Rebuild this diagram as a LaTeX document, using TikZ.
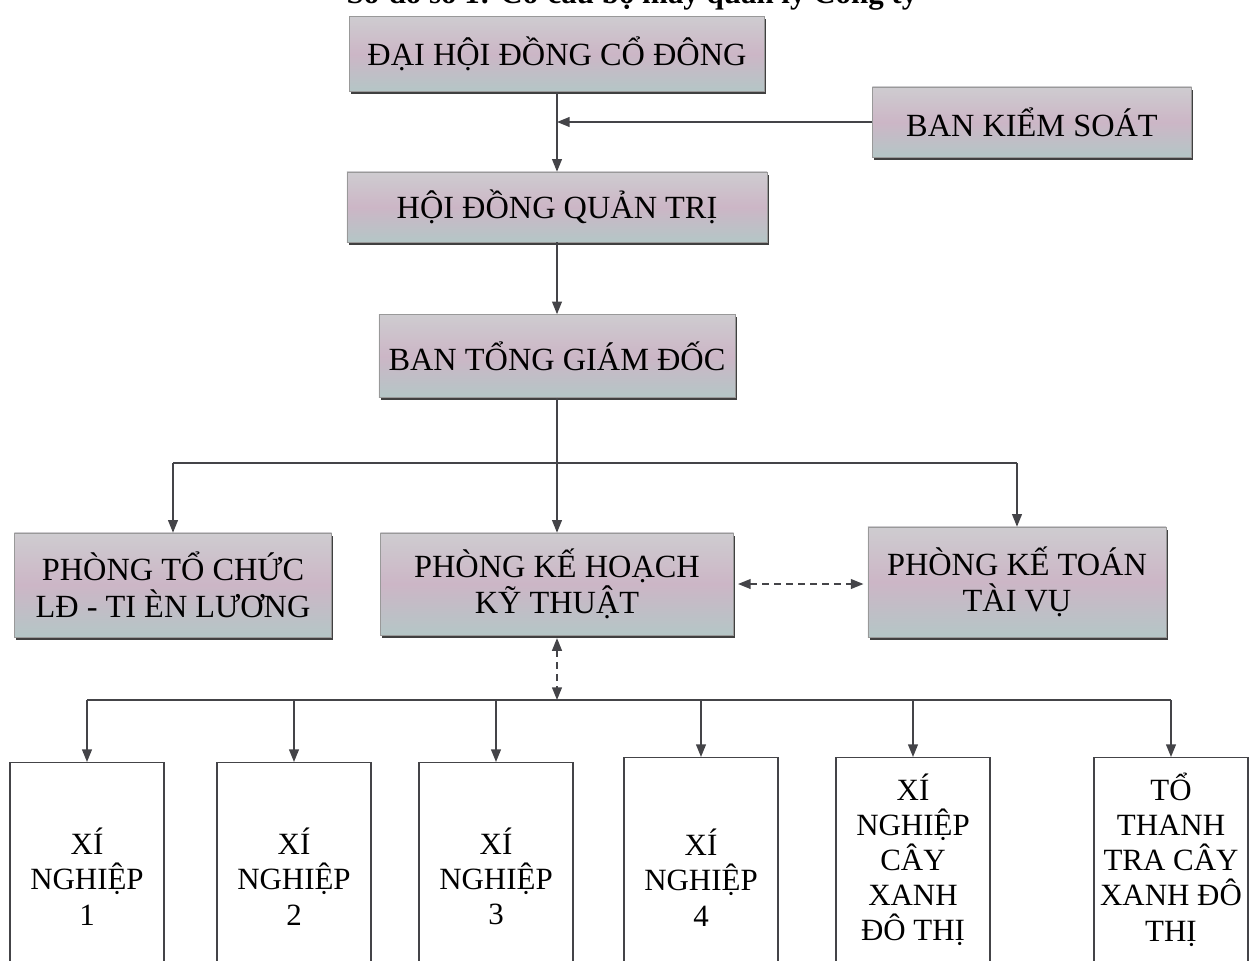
\documentclass[tikz,border=0pt]{standalone}
\usepackage{fontspec}
\setmainfont{Liberation Serif}
\usetikzlibrary{arrows.meta,shadows}
\definecolor{metaltop}{RGB}{206,204,208}
\definecolor{metalmid}{RGB}{204,182,198}
\definecolor{metalbot}{RGB}{180,198,198}
\definecolor{linegray}{RGB}{68,68,72}
\begin{document}
\begin{tikzpicture}[x=0.025cm,y=-0.025cm,
		>={Triangle[length=9pt,width=7pt]},
		line/.style={draw=linegray,line width=1.1pt},
		topbox/.style={draw=gray!80,thin,top color=metaltop,bottom color=metalbot,middle color=metalmid,
			drop shadow={shadow xshift=1.2pt,shadow yshift=-2pt,fill=black!75,opacity=1},
			font=\fontsize{23}{26}\selectfont,align=center,inner sep=2pt},
		unitbox/.style={draw=linegray,fill=white,line width=0.8pt,minimum width=3.85cm,
			font=\fontsize{22}{25}\selectfont,align=center,anchor=north}]
		\useasboundingbox (0,0) rectangle (1251,961);
		\clip (0,0) rectangle (1251,961);
		\node[font=\bfseries\fontsize{22}{26}\selectfont,anchor=base] (title) at (632,3) {Sơ đồ số 1: Cơ cấu bộ máy quản lý Công ty};
		\node[topbox,minimum width=10.375cm,minimum height=1.875cm] (dhcd) at (557,54) {ĐẠI HỘI ĐỒNG CỔ ĐÔNG};
		\node[topbox,minimum width=7.975cm,minimum height=1.75cm] (bks) at (1032,122) {BAN KIỂM SOÁT};
		\node[topbox,minimum width=10.5cm,minimum height=1.75cm] (hdqt) at (557,207) {HỘI ĐỒNG QUẢN TRỊ};
		\node[topbox,minimum width=8.9cm,minimum height=2.075cm] (btgd) at (557,356) {BAN TỔNG GIÁM ĐỐC};
		\node[topbox,minimum width=7.925cm,minimum height=2.6cm] (tc) at (173,585) {PHÒNG TỔ CHỨC\\LĐ - TI ÈN LƯƠNG};
		\node[topbox,minimum width=8.825cm,minimum height=2.55cm] (kh) at (557,584) {PHÒNG KẾ HOẠCH\\KỸ THUẬT};
		\node[topbox,minimum width=7.45cm,minimum height=2.75cm] (kt) at (1017,582) {PHÒNG KẾ TOÁN\\TÀI VỤ};
		\node[unitbox,minimum height=5.7cm] (xn1) at (87,762) {XÍ\\NGHIỆP\\1};
		\node[unitbox,minimum height=5.7cm] (xn2) at (294,762) {XÍ\\NGHIỆP\\2};
		\node[unitbox,minimum height=5.7cm] (xn3) at (496,762) {XÍ\\NGHIỆP\\3};
		\node[unitbox,minimum height=6cm] (xn4) at (701,757) {XÍ\\NGHIỆP\\4};
		\node[unitbox,minimum height=5.1cm] (xncx) at (913,757) {XÍ\\NGHIỆP\\CÂY\\XANH\\ĐÔ THỊ};
		\node[unitbox,minimum height=5.1cm] (tt) at (1171,757) {TỔ\\THANH\\TRA CÂY\\XANH ĐÔ\\THỊ};
		% upper levels
		\draw[line,->] (dhcd) -- (hdqt);
		\draw[line,->] (bks) -- (bks -| dhcd);
		\draw[line,->] (hdqt) -- (btgd);
		\coordinate (busA) at (557,463);
		\draw[line] (btgd) -- (busA);
		\draw[line] (busA -| tc) -- (busA -| kt);
		\foreach \n in {tc,kh,kt} \draw[line,->] (busA -| \n) -- (\n);
		\draw[line,dashed,dash pattern=on 5pt off 3.5pt,<->,shorten <=3pt,shorten >=3pt] (kh.east) -- (kh.east -| kt.west);
		% units
		\coordinate (busB) at (557,700);
		\draw[line,dashed,dash pattern=on 5pt off 3.5pt,<->,shorten <=2pt] (kh) -- (busB);
		\draw[line] (busB -| xn1) -- (busB -| tt);
		\foreach \n in {xn1,xn2,xn3,xn4,xncx,tt} \draw[line,->] (busB -| \n) -- (\n);
\end{tikzpicture}
\end{document}
